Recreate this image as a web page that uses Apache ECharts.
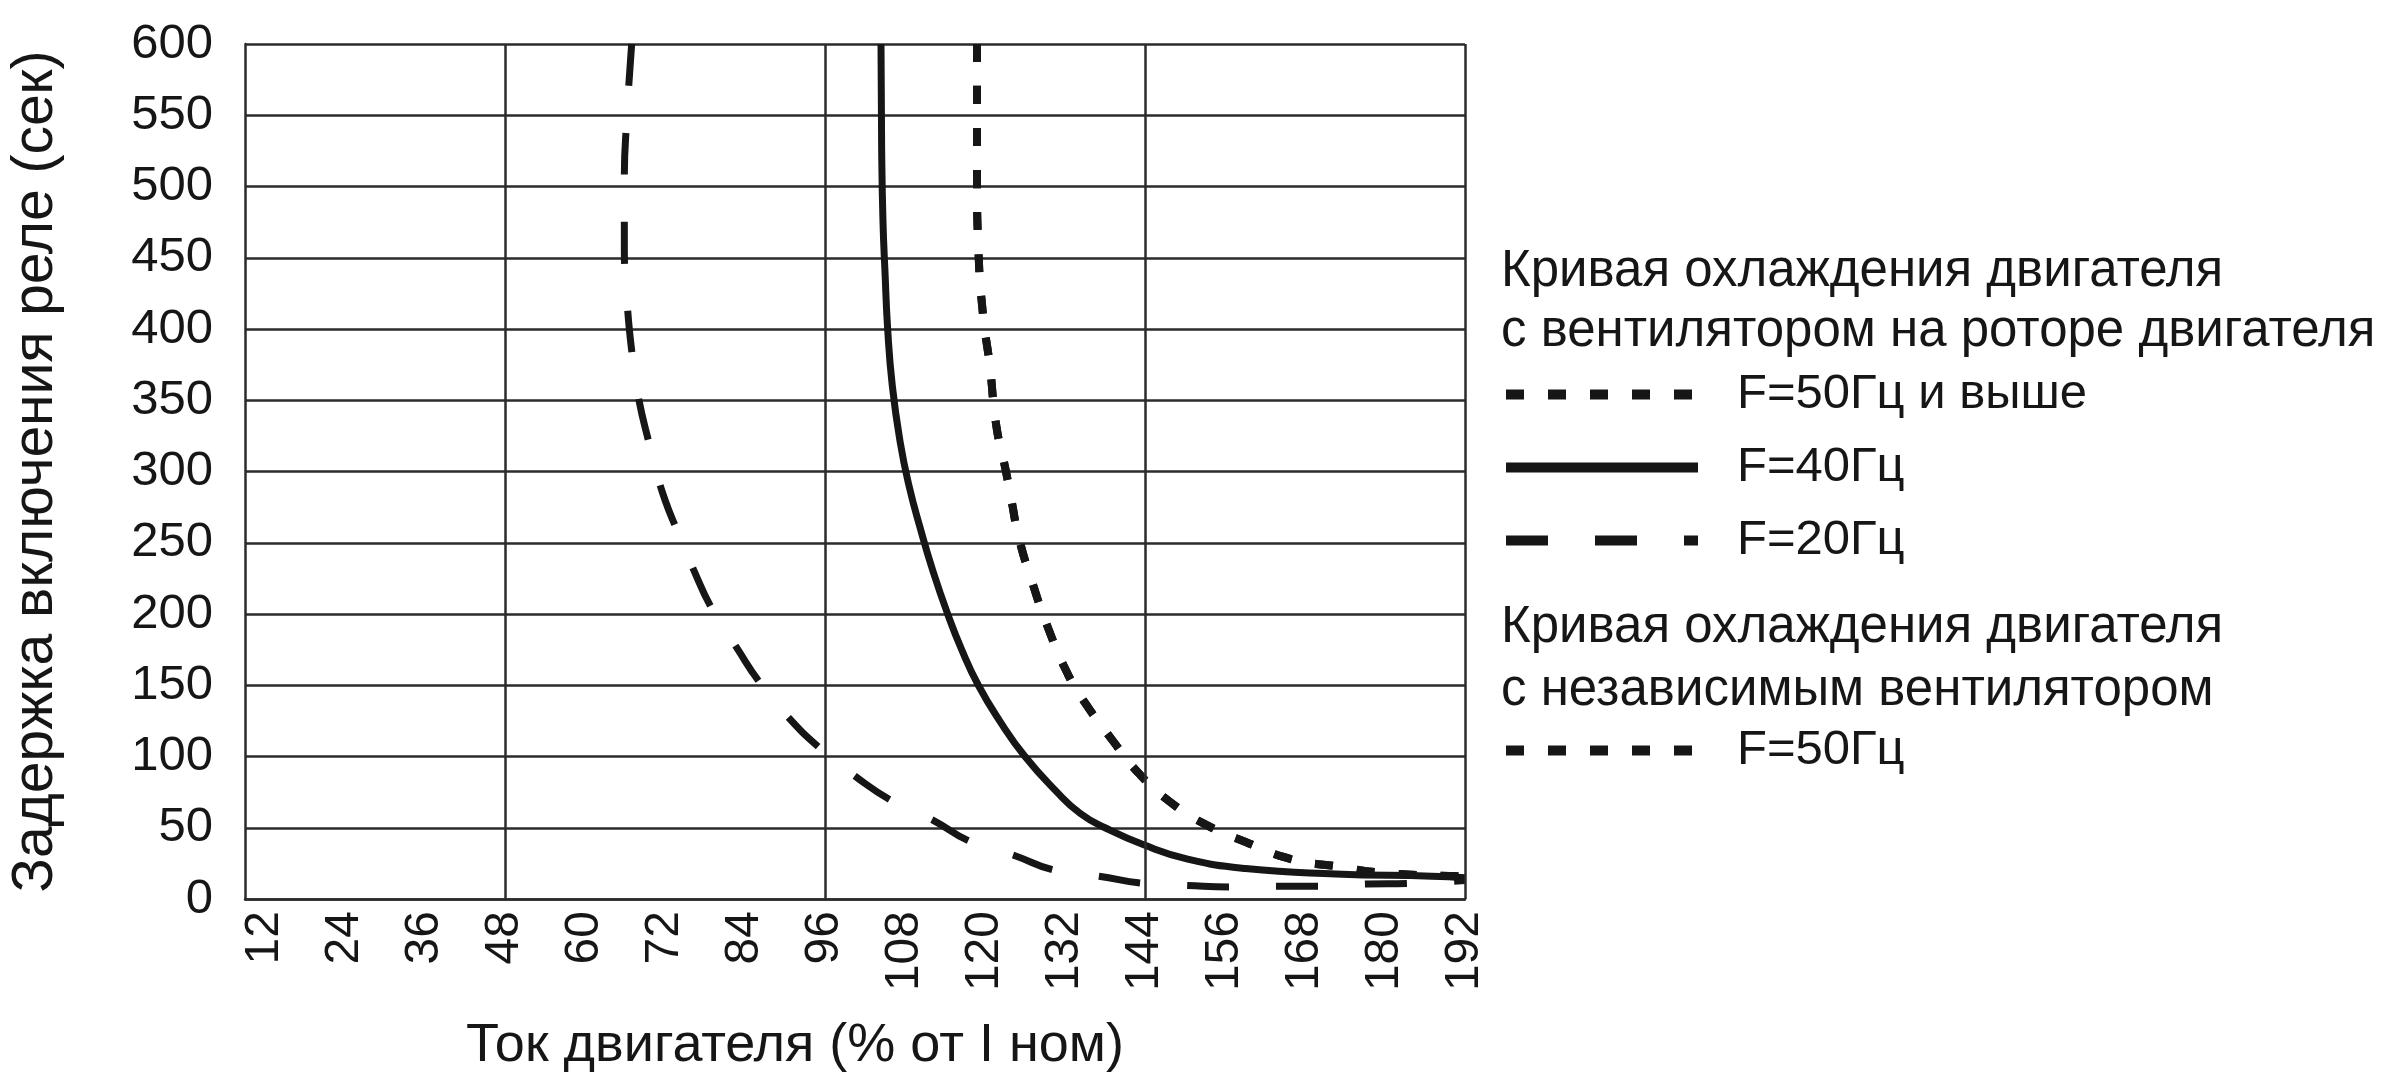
<!DOCTYPE html>
<html>
<head>
<meta charset="utf-8">
<title>Кривые охлаждения двигателя</title>
<script src="https://cdn.jsdelivr.net/npm/echarts@6/dist/echarts.min.js"></script>
<style>
  html, body { margin: 0; padding: 0; background: #fff; }
  #chart { width: 2392px; height: 1078px; }
</style>
</head>
<body>
<div id="chart"></div>
<script>
// Current axis (% of nominal) and delay axis (seconds)
const currentTicks = [12, 24, 36, 48, 60, 72, 84, 96, 108, 120, 132, 144, 156, 168, 180, 192];
const currentGridLines = [48, 96, 144, 192];

// Fan on motor rotor, F = 50 Hz and above (also the independent-fan curve at 50 Hz)
const current50 = [118.8, 118.8, 118.8, 119.0, 119.7, 120.7, 121.7, 123.1, 124.0, 125.1, 127.1, 129.4, 132.4, 135.1, 139.1, 143.1, 147.8, 153.2, 159.1, 165.9, 172.6, 180.6, 192];
const delay50   = [600,   564,   506,   457,   410,   375,   332,   301,   279,   253,   222,   191,   158,   137,   111.5, 88,    68,    52,    40,    28,    23,    18,    16];

// Fan on motor rotor, F = 40 Hz
const current40 = [104.4, 104.5, 104.7, 105.0, 105.4, 106.1, 107.3, 108.6, 110.3, 112.2, 114.4, 116.5, 119.0, 122.2, 126.0, 130.8, 134.3, 138.0, 143.8, 150.4, 159.1, 172.6, 187.0, 192];
const delay40   = [600,   525,   475,   440,   400,   360,   320,   290,   260,   230,   200,   175,   150,   125,   100,   75,    60,    50,    38,    28,    21.4,  17.6,  16,    15];

// Fan on motor rotor, F = 20 Hz
const current20 = [67.0, 66.3, 65.9, 65.9, 66.3, 67.1, 68.1, 69.6, 70.7, 72.0, 73.7, 76.3, 79.0, 82.8, 86.2, 90.4, 95.2, 101.0, 106.0, 112.3, 117.7, 124.3, 130.3, 137.1, 143.8, 150.4, 156.9, 164.0, 170.2, 177.3, 183.6, 192];
const delay20   = [600,  550,  505,  460,  420,  381,  350,  320,  300,  280,  260,  231,  204,  176,  152,  128,  106,  84.5,  69,    55,    40.5,  30.7,  20.3,  16,    11,    9.5,   8.5,   9,     9,     10.5,  11,    13];

const pairs = (xs, ys) => xs.map((x, i) => [x, ys[i]]);

const FONT = "'Liberation Sans', Arial, sans-serif";
const INK = '#161616';
const GRID = '#2b2b2b';
const SHORT_DASH = [18, 24];
const LONG_DASH = [42, 47];

const chart = echarts.init(document.getElementById('chart'), null, { renderer: 'canvas' });

const legendBase = {
  orient: 'vertical',
  left: 1496,
  itemWidth: 192, itemHeight: 20,
  selectedMode: false,
  itemStyle: { opacity: 0 },
  lineStyle: { width: 10 },
  textStyle: { fontFamily: FONT, fontSize: 49, color: INK, padding: [0, 0, 0, 34] }
};

chart.setOption({
  backgroundColor: '#ffffff',
  animation: false,
  color: [INK, INK, INK, INK],
  textStyle: { fontFamily: FONT, color: INK },
  grid: { left: 245, right: 927, top: 44, bottom: 175, containLabel: false },
  title: [
    {
      text: 'Кривая охлаждения двигателя\nс вентилятором на роторе двигателя',
      left: 1496, top: 237,
      textStyle: { fontFamily: FONT, fontSize: 51, fontWeight: 'normal', lineHeight: 60, color: INK }
    },
    {
      text: 'Кривая охлаждения двигателя\nс независимым вентилятором',
      left: 1496, top: 591,
      textStyle: { fontFamily: FONT, fontSize: 51, fontWeight: 'normal', lineHeight: 63, color: INK }
    }
  ],
  legend: [
    Object.assign({}, legendBase, {
      data: ['F=50Гц и выше', 'F=40Гц', 'F=20Гц'],
      top: 365, itemGap: 24
    }),
    Object.assign({}, legendBase, {
      data: ['F=50Гц'],
      top: 721
    })
  ],
  xAxis: {
    type: 'value',
    min: 9, max: 192,
    name: 'Ток двигателя (% от I ном)',
    nameLocation: 'middle',
    nameGap: 120,
    nameTextStyle: { fontFamily: FONT, fontSize: 54, color: INK, padding: [0, 120, 0, 0] },
    axisLine: { show: true, lineStyle: { color: GRID, width: 2.5 } },
    axisTick: { show: false },
    splitLine: { show: false },
    axisLabel: {
      customValues: currentTicks,
      rotate: 90,
      margin: 12,
      fontFamily: FONT, fontSize: 48, color: INK
    }
  },
  yAxis: {
    type: 'value',
    min: 0, max: 600, interval: 50,
    name: 'Задержка включения реле (сек)',
    nameLocation: 'middle',
    nameRotate: 90,
    nameGap: 180,
    nameTextStyle: { fontFamily: FONT, fontSize: 57, color: INK },
    axisLine: { show: true, lineStyle: { color: GRID, width: 2.5 } },
    axisTick: { show: false },
    splitLine: { show: true, lineStyle: { color: GRID, width: 2.5 } },
    axisLabel: { margin: 32, fontFamily: FONT, fontSize: 49, color: INK }
  },
  series: [
    {
      name: 'F=50Гц и выше',
      type: 'line',
      data: pairs(current50, delay50),
      symbol: 'none',
      smooth: 0.5,
      itemStyle: { color: INK },
      lineStyle: { color: INK, width: 8, type: SHORT_DASH }
    },
    {
      name: 'F=40Гц',
      type: 'line',
      data: pairs(current40, delay40),
      symbol: 'none',
      smooth: 0.5,
      itemStyle: { color: INK },
      lineStyle: { color: INK, width: 7, type: 'solid' },
      markLine: {
        silent: true,
        symbol: 'none',
        label: { show: false },
        lineStyle: { color: GRID, width: 2.5, type: 'solid' },
        data: currentGridLines.map(v => ({ xAxis: v }))
      }
    },
    {
      name: 'F=20Гц',
      type: 'line',
      data: pairs(current20, delay20),
      symbol: 'none',
      smooth: 0.5,
      itemStyle: { color: INK },
      lineStyle: { color: INK, width: 7, type: LONG_DASH }
    },
    {
      name: 'F=50Гц',
      type: 'line',
      data: pairs(current50, delay50),
      symbol: 'none',
      smooth: 0.5,
      itemStyle: { color: INK },
      lineStyle: { color: INK, width: 8, type: SHORT_DASH }
    }
  ]
});
</script>
</body>
</html>
